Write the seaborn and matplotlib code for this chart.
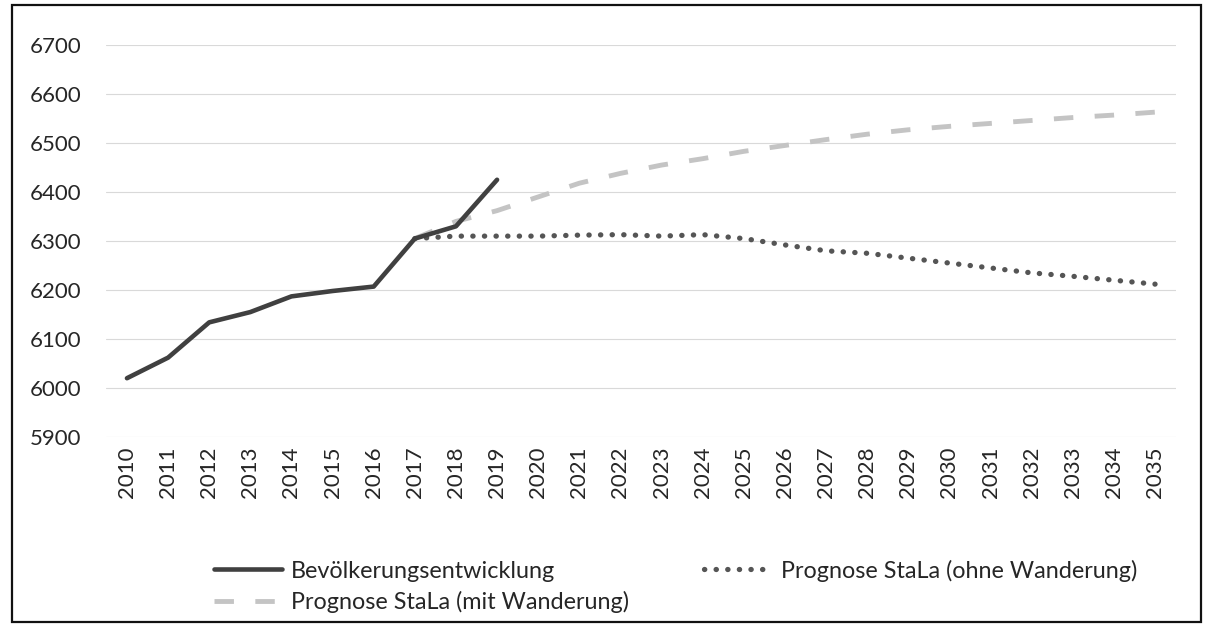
import matplotlib
matplotlib.use("Agg")
import matplotlib.pyplot as plt
from matplotlib.patches import Rectangle
import seaborn as sns
import pandas as pd

# data
years = list(range(2010, 2036))
bev_years = list(range(2010, 2020))
bev_values = [6020, 6062, 6134, 6155, 6187, 6198, 6207, 6305, 6330, 6425]
prog_years = list(range(2017, 2036))
mit_values = [6305, 6340, 6362, 6390, 6418, 6438, 6455, 6468, 6483, 6495,
              6507, 6518, 6527, 6534, 6540, 6546, 6552, 6557, 6563]
ohne_values = [6305, 6310, 6310, 6310, 6312, 6313, 6310, 6313, 6305, 6292,
               6280, 6275, 6265, 6255, 6245, 6235, 6228, 6220, 6212]
y_ticks = list(range(5900, 6800, 100))

label_bev = "Bevölkerungsentwicklung"
label_ohne = "Prognose StaLa (ohne Wanderung)"
label_mit = "Prognose StaLa (mit Wanderung)"

df_bev = pd.DataFrame({"Jahr": bev_years, "Wert": bev_values})
df_mit = pd.DataFrame({"Jahr": prog_years, "Wert": mit_values})
df_ohne = pd.DataFrame({"Jahr": prog_years, "Wert": ohne_values})

sns.set_style("white")
plt.rcParams["font.family"] = ["Lato", "DejaVu Sans"]

fig = plt.figure(figsize=(12.05, 6.34), dpi=100)
ax = fig.add_axes([0.0883, 0.3107, 0.8873, 0.6183])

sns.lineplot(data=df_mit, x="Jahr", y="Wert", ax=ax, color="#c4c4c4",
             linewidth=3.5, linestyle=(0, (4, 4.4)), label=label_mit, zorder=2)
sns.lineplot(data=df_ohne, x="Jahr", y="Wert", ax=ax, color="#555555",
             linewidth=3.8, linestyle=(0, (0.05, 2.15)), label=label_ohne,
             zorder=2)
sns.lineplot(data=df_bev, x="Jahr", y="Wert", ax=ax, color="#404040",
             linewidth=3.3, label=label_bev, zorder=3)
for line in ax.get_lines():
    if line.get_label() == label_ohne:
        line.set_dash_capstyle("round")
    else:
        line.set_dash_capstyle("butt")

ax.set_xlim(2009.5, 2035.5)
ax.set_ylim(5900, 6700)
ax.set_xticks(years)
ax.set_xticklabels([str(y) for y in years], rotation=90, fontsize=16,
                   color="#262626")
ax.set_yticks(y_ticks)
ax.set_yticklabels([str(v) for v in y_ticks], fontsize=16, color="#262626")
ax.tick_params(axis="x", length=0, pad=7)
ax.tick_params(axis="y", length=0, pad=18)
ax.set_xlabel("")
ax.set_ylabel("")
ax.grid(axis="y", color="#d9d9d9", linewidth=0.8)
ax.grid(axis="x", visible=False)
for s in ax.spines.values():
    s.set_visible(False)

handles, labels = ax.get_legend_handles_labels()
order = [labels.index(label_bev), labels.index(label_mit), labels.index(label_ohne)]
ax.get_legend().remove()
fig.legend([handles[i] for i in order], [labels[i] for i in order],
           loc="upper left", bbox_to_anchor=(0.168, 0.136), ncol=2,
           frameon=False, fontsize=16.8, handlelength=2.9, handletextpad=0.4,
           columnspacing=3.2, labelspacing=0.4, borderpad=0)

# scanned page frame
fig.patches.append(Rectangle((0.010, 0.019), 0.987, 0.973, transform=fig.transFigure,
                             fill=False, edgecolor="#111111", linewidth=1.6))

fig.savefig("out.png", dpi=100)
